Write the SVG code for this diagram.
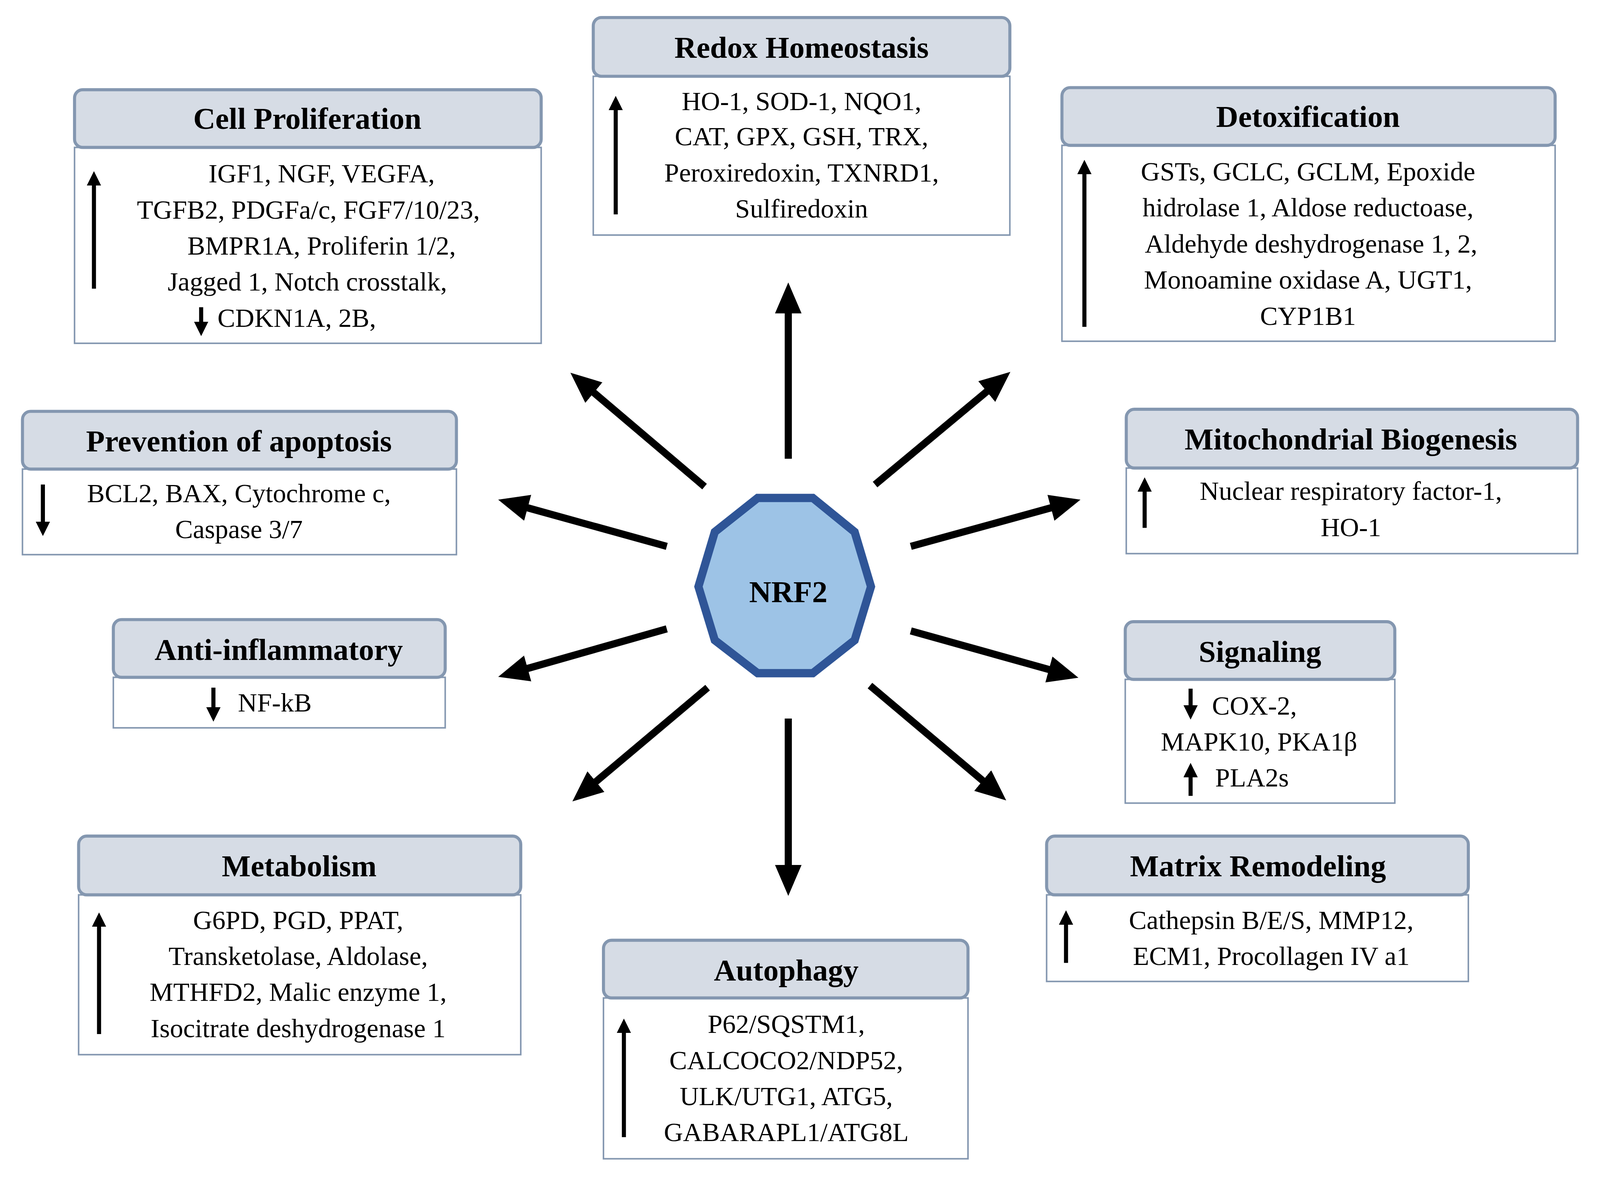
<svg xmlns="http://www.w3.org/2000/svg" width="4200" height="3055" viewBox="0 0 4200 3055">
<style>
.hd{fill:#d6dce5;stroke:#8497b0;stroke-width:3}
.bd{fill:#fff;stroke:#8497b0;stroke-width:1.5}
.t{font-family:"Liberation Serif",serif;font-weight:bold;font-size:30px;text-anchor:middle;fill:#000}
.b{font-family:"Liberation Serif",serif;font-size:26px;text-anchor:middle;fill:#000}
.s{font-family:"Liberation Serif",serif;font-size:26px;fill:#000}
.ia{stroke:#000;stroke-width:4;marker-end:url(#sm)}
.ca{stroke:#000;stroke-width:7;marker-end:url(#bg)}
</style>
<defs>
<marker id="sm" markerUnits="userSpaceOnUse" markerWidth="16" markerHeight="16" refX="4" refY="7" orient="auto"><path d="M0,0 L14,7 L0,14 Z" fill="#000"/></marker>
<marker id="bg" markerUnits="userSpaceOnUse" markerWidth="34" markerHeight="30" refX="6" refY="13" orient="auto"><path d="M0,0 L30,13 L0,26 Z" fill="#000"/></marker>
</defs>
<rect width="4200" height="3055" fill="#fff"/>
<g transform="scale(2.614,2.64)">
<g id="connectors">
<line class="ca" x1="772" y1="445" x2="772" y2="298"/>
<line class="ca" x1="690" y1="472" x2="577" y2="377"/>
<line class="ca" x1="857" y1="470" x2="971" y2="376"/>
<line class="ca" x1="653" y1="530" x2="511" y2="491"/>
<line class="ca" x1="892" y1="530" x2="1035" y2="491"/>
<line class="ca" x1="653" y1="610" x2="511" y2="650"/>
<line class="ca" x1="892" y1="612" x2="1033" y2="651"/>
<line class="ca" x1="693" y1="667" x2="579" y2="762"/>
<line class="ca" x1="852" y1="665" x2="967" y2="761"/>
<line class="ca" x1="772" y1="697" x2="772" y2="845"/>
</g>
<g id="nrf2">
<polygon points="742,483 796,483 837,516 853,569 837,621 796,653 742,653 700,621 684,569 700,516" fill="#9dc3e6" stroke="#2f5597" stroke-width="8"/>
<text class="t" x="772" y="584" font-size="40">NRF2</text>
</g>
<g id="cell-proliferation">
<rect class="bd" x="73" y="143" width="457" height="190"/>
<rect class="hd" x="73" y="87" width="457" height="56" rx="8"/>
<text class="t" x="301" y="125">Cell Proliferation</text>
<text class="b" x="315" y="177">IGF1, NGF, VEGFA,</text>
<text class="b" x="302" y="212">TGFB2, PDGFa/c, FGF7/10/23,</text>
<text class="b" x="315" y="247">BMPR1A, Proliferin 1/2,</text>
<text class="b" x="301" y="282">Jagged 1, Notch crosstalk,</text>
<text class="s" x="213" y="317">CDKN1A, 2B,</text>
<line class="ia" x1="92" y1="280" x2="92" y2="176"/>
<line class="ia" x1="197" y1="298" x2="197" y2="316"/>
</g>
<g id="redox">
<rect class="bd" x="581" y="74" width="408" height="154"/>
<rect class="hd" x="581" y="17" width="408" height="57" rx="8"/>
<text class="t" x="785" y="56">Redox Homeostasis</text>
<text class="b" x="785" y="107">HO-1, SOD-1, NQO1,</text>
<text class="b" x="785" y="141">CAT, GPX, GSH, TRX,</text>
<text class="b" x="785" y="176">Peroxiredoxin, TXNRD1,</text>
<text class="b" x="785" y="211">Sulfiredoxin</text>
<line class="ia" x1="603" y1="208" x2="603" y2="103"/>
</g>
<g id="detoxification">
<rect class="bd" x="1040" y="141" width="483" height="190"/>
<rect class="hd" x="1040" y="85" width="483" height="56" rx="8"/>
<text class="t" x="1281" y="123">Detoxification</text>
<text class="b" x="1281" y="175">GSTs, GCLC, GCLM, Epoxide</text>
<text class="b" x="1281" y="210">hidrolase 1, Aldose reductoase,</text>
<text class="b" x="1284" y="245">Aldehyde deshydrogenase 1, 2,</text>
<text class="b" x="1281" y="280">Monoamine oxidase A, UGT1,</text>
<text class="b" x="1281" y="315">CYP1B1</text>
<line class="ia" x1="1062" y1="317" x2="1062" y2="165"/>
</g>
<g id="apoptosis">
<rect class="bd" x="22" y="455" width="425" height="83"/>
<rect class="hd" x="22" y="399" width="425" height="56" rx="8"/>
<text class="t" x="234" y="438">Prevention of apoptosis</text>
<text class="b" x="234" y="487">BCL2, BAX, Cytochrome c,</text>
<text class="b" x="234" y="522">Caspase 3/7</text>
<line class="ia" x1="42" y1="470" x2="42" y2="510"/>
</g>
<g id="mitochondrial">
<rect class="bd" x="1103" y="454" width="442" height="83"/>
<rect class="hd" x="1103" y="397" width="442" height="57" rx="8"/>
<text class="t" x="1323" y="436">Mitochondrial Biogenesis</text>
<text class="b" x="1323" y="485">Nuclear respiratory factor-1,</text>
<text class="b" x="1323" y="520">HO-1</text>
<line class="ia" x1="1121" y1="512" x2="1121" y2="473"/>
</g>
<g id="anti-inflammatory">
<rect class="bd" x="111" y="657" width="325" height="49"/>
<rect class="hd" x="111" y="601" width="325" height="56" rx="8"/>
<text class="t" x="273" y="640">Anti-inflammatory</text>
<text class="s" x="233" y="690">NF-kB</text>
<line class="ia" x1="209" y1="667" x2="209" y2="690"/>
</g>
<g id="signaling">
<rect class="bd" x="1102" y="659" width="264" height="120"/>
<rect class="hd" x="1102" y="603" width="264" height="56" rx="8"/>
<text class="t" x="1234" y="642">Signaling</text>
<text class="s" x="1187" y="693">COX-2,</text>
<text class="b" x="1233" y="728">MAPK10, PKA1β</text>
<text class="s" x="1190" y="763">PLA2s</text>
<line class="ia" x1="1166" y1="668" x2="1166" y2="688"/>
<line class="ia" x1="1166" y1="772" x2="1166" y2="750"/>
</g>
<g id="metabolism">
<rect class="bd" x="77" y="868" width="433" height="155"/>
<rect class="hd" x="77" y="811" width="433" height="57" rx="8"/>
<text class="t" x="293" y="850">Metabolism</text>
<text class="b" x="292" y="901">G6PD, PGD, PPAT,</text>
<text class="b" x="292" y="936">Transketolase, Aldolase,</text>
<text class="b" x="292" y="971">MTHFD2, Malic enzyme 1,</text>
<text class="b" x="292" y="1006">Isocitrate deshydrogenase 1</text>
<line class="ia" x1="97" y1="1003" x2="97" y2="895"/>
</g>
<g id="matrix">
<rect class="bd" x="1025" y="868" width="413" height="84"/>
<rect class="hd" x="1025" y="811" width="413" height="57" rx="8"/>
<text class="t" x="1232" y="850">Matrix Remodeling</text>
<text class="b" x="1245" y="901">Cathepsin B/E/S, MMP12,</text>
<text class="b" x="1245" y="936">ECM1, Procollagen IV a1</text>
<line class="ia" x1="1044" y1="934" x2="1044" y2="893"/>
</g>
<g id="autophagy">
<rect class="bd" x="591" y="968" width="357" height="156"/>
<rect class="hd" x="591" y="912" width="357" height="56" rx="8"/>
<text class="t" x="770" y="951">Autophagy</text>
<text class="b" x="770" y="1002">P62/SQSTM1,</text>
<text class="b" x="770" y="1037">CALCOCO2/NDP52,</text>
<text class="b" x="770" y="1072">ULK/UTG1, ATG5,</text>
<text class="b" x="770" y="1107">GABARAPL1/ATG8L</text>
<line class="ia" x1="611" y1="1103" x2="611" y2="998"/>
</g>
</g>
</svg>
